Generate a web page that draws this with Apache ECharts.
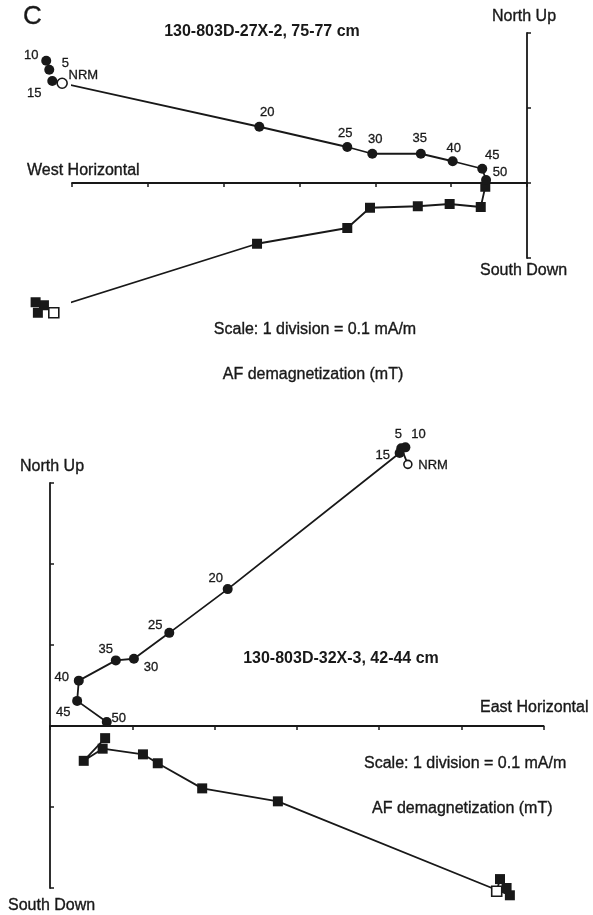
<!DOCTYPE html>
<html>
<head>
<meta charset="utf-8">
<script src="https://cdn.jsdelivr.net/npm/echarts@6/dist/echarts.min.js"></script>
<style>
  html, body { margin: 0; padding: 0; background: #fff; }
  #chart { width: 593px; height: 915px; }
</style>
</head>
<body>
<div id="chart"></div>
<script>
// AF demagnetization steps (mT)
const steps = ['NRM', '5', '10', '15', '20', '25', '30', '35', '40', '45', '50'];

// 130-803D-27X-2, 75-77 cm  (mA/m)
const topCircleWest  = [0.613, 0.630, 0.634, 0.626, 0.353, 0.237, 0.204, 0.140, 0.098, 0.059, 0.054];
const topCircleNorth = [0.133, 0.151, 0.163, 0.136, 0.075, 0.048, 0.039, 0.039, 0.029, 0.019, 0.004];
const topSquareWest  = [0.624, 0.637, 0.648, 0.645, 0.356, 0.237, 0.207, 0.144, 0.102, 0.061, 0.055];
const topSquareUp    = [-0.173, -0.163, -0.159, -0.173, -0.081, -0.060, -0.033, -0.031, -0.028, -0.032, -0.005];

// 130-803D-32X-3, 42-44 cm  (mA/m)
const botCircleEast  = [0.435, 0.427, 0.432, 0.425, 0.216, 0.145, 0.102, 0.080, 0.035, 0.033, 0.069];
const botCircleNorth = [0.323, 0.343, 0.344, 0.337, 0.169, 0.115, 0.083, 0.081, 0.056, 0.031, 0.005];
const botSquareEast  = [0.543, 0.547, 0.555, 0.559, 0.277, 0.185, 0.131, 0.113, 0.064, 0.041, 0.067];
const botSquareUp    = [-0.204, -0.189, -0.200, -0.209, -0.093, -0.077, -0.046, -0.035, -0.028, -0.043, -0.015];

// step label offsets from each circle centre (px)
const topLabelOffsets = [[22,-7],[16,-6],[-15,-5],[-18,12],[8,-14],[-2,-14],[3,-14],[-1,-15],[1,-13],[10,-13],[14,-8]];
const botLabelOffsets = [[26,2],[-3,-14],[13,-13],[-17,2],[-12,-11],[-14,-7],[17,9],[-10,-11],[-17,-3],[-14,12],[12,-4]];

const INK = '#181818';
const FONT = '"Liberation Sans", Arial, sans-serif';

function pointData(xs, ys, offsets, size, nrmSize) {
  return xs.map((x, i) => {
    const item = { name: steps[i], value: [x, ys[i]] };
    const s = (i === 0 && nrmSize) ? nrmSize : size;
    if (offsets) {
      // label anchor relative to the symbol's bounding box
      item.label = { position: [s / 2 + offsets[i][0], s / 2 + offsets[i][1]] };
    }
    if (i === 0) {
      item.itemStyle = { color: '#fff', borderColor: INK, borderWidth: 1.6 };
      if (nrmSize) item.symbolSize = nrmSize;
    }
    return item;
  });
}

function circleSeries(idx, xs, ys, offsets, size, nrmSize) {
  return {
    type: 'line', xAxisIndex: idx, yAxisIndex: idx, clip: false,
    symbol: 'circle', symbolSize: size, showAllSymbol: true,
    lineStyle: { color: INK, width: 1.8 },
    itemStyle: { color: INK },
    label: {
      show: true, formatter: '{b}', align: 'center', verticalAlign: 'middle',
      fontFamily: FONT, fontSize: 13, color: INK,
      textBorderColor: INK, textBorderWidth: 0.3
    },
    data: pointData(xs, ys, offsets, size, nrmSize),
    z: 3
  };
}

function squareSeries(idx, xs, ys, size) {
  return {
    type: 'line', xAxisIndex: idx, yAxisIndex: idx, clip: false,
    symbol: 'rect', symbolSize: size, showAllSymbol: true,
    lineStyle: { color: INK, width: 1.8 },
    itemStyle: { color: INK },
    data: pointData(xs, ys, null, size, null),
    z: 3
  };
}

const axisLine = { onZero: true, lineStyle: { color: INK, width: 1.8 } };
const axisTick = { show: true, length: 4, lineStyle: { color: INK, width: 1.5 } };

function txt(text, x, y, size, align, weight) {
  return {
    type: 'text', x: x, y: y, silent: true,
    style: {
      text: text, fill: INK,
      stroke: INK, lineWidth: weight ? 0 : 0.35,
      font: (weight || 'normal') + ' ' + size + 'px ' + FONT,
      textAlign: align || 'left', textVerticalAlign: 'middle',
      align: align || 'left', verticalAlign: 'middle'
    }
  };
}

const chart = echarts.init(document.getElementById('chart'), null, { renderer: 'canvas' });
chart.setOption({
  animation: false,
  backgroundColor: '#fff',
  grid: [
    { left: 72, top: 33, width: 455, height: 225 },
    { left: 50, top: 483, width: 493.6, height: 405 }
  ],
  xAxis: [
    { gridIndex: 0, type: 'value', min: 0, max: 0.6, interval: 0.1, inverse: true,
      axisLine: axisLine, axisTick: axisTick, axisLabel: { show: false }, splitLine: { show: false } },
    { gridIndex: 1, type: 'value', min: 0, max: 0.6, interval: 0.1,
      axisLine: axisLine, axisTick: axisTick, axisLabel: { show: false }, splitLine: { show: false } }
  ],
  yAxis: [
    { gridIndex: 0, type: 'value', min: -0.1, max: 0.2, interval: 0.1, position: 'right',
      axisLine: axisLine, axisTick: axisTick, axisLabel: { show: false }, splitLine: { show: false } },
    { gridIndex: 1, type: 'value', min: -0.2, max: 0.3, interval: 0.1, position: 'left',
      axisLine: axisLine, axisTick: Object.assign({ inside: true }, axisTick),
      axisLabel: { show: false }, splitLine: { show: false } }
  ],
  series: [
    squareSeries(0, topSquareWest, topSquareUp, 10),
    circleSeries(0, topCircleWest, topCircleNorth, topLabelOffsets, 10, 10),
    squareSeries(1, botSquareEast, botSquareUp, 10),
    circleSeries(1, botCircleEast, botCircleNorth, botLabelOffsets, 10, 8)
  ],
  graphic: [
    txt('C', 23, 17, 26),
    txt('130-803D-27X-2, 75-77 cm', 262, 32, 16, 'center', 'bold'),
    txt('North Up', 492, 17, 16),
    txt('West Horizontal', 27, 171, 16),
    txt('South Down', 480, 271, 16),
    txt('Scale: 1 division = 0.1 mA/m', 315, 330, 16, 'center'),
    txt('AF demagnetization (mT)', 313, 375, 16, 'center'),

    txt('North Up', 20, 467, 16),
    txt('130-803D-32X-3, 42-44 cm', 341, 659, 16, 'center', 'bold'),
    txt('East Horizontal', 480, 708, 16),
    txt('Scale: 1 division = 0.1 mA/m', 364, 764, 16),
    txt('AF demagnetization (mT)', 372, 809, 16),
    txt('South Down', 8, 906, 16)
  ]
});
</script>
</body>
</html>
